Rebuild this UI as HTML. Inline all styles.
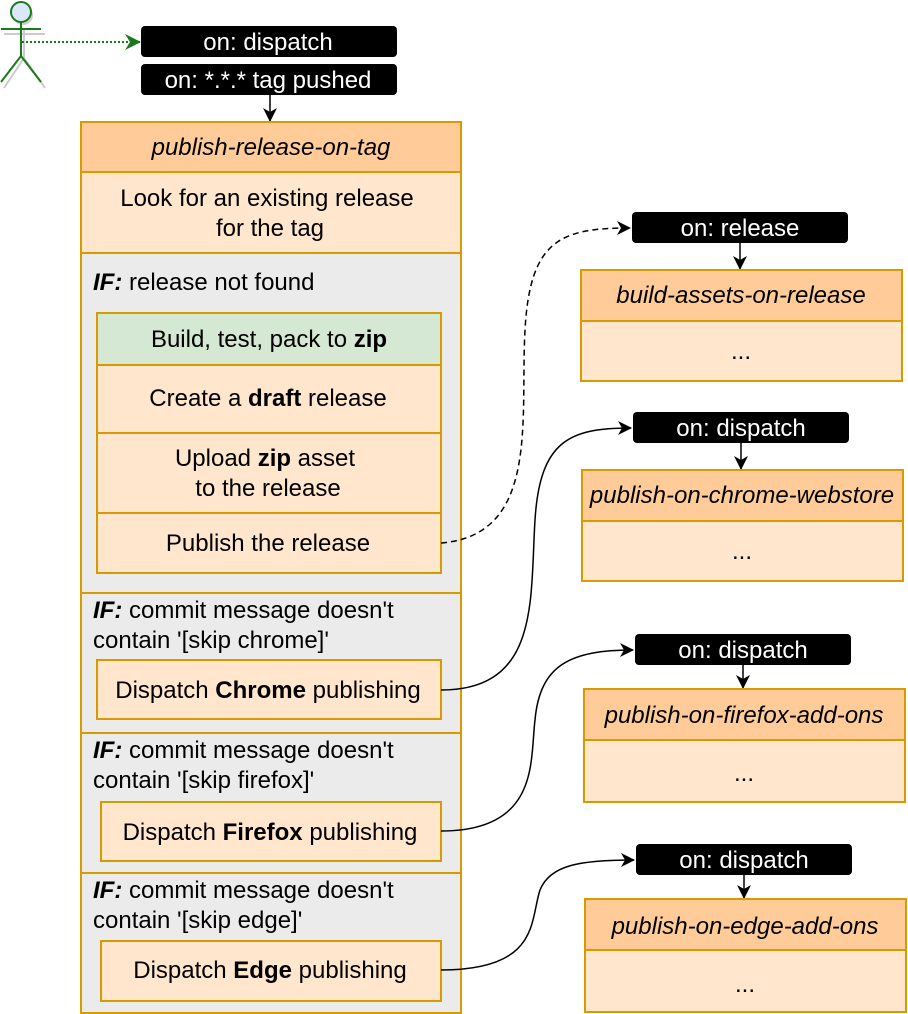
<!DOCTYPE html>
<html><head><meta charset="utf-8"><style>
html,body{margin:0;padding:0;background:#fff;}
svg{display:block;font-family:"Liberation Sans",Arial,sans-serif;}
text{font-size:24px;}
</style></head><body>
<svg width="908" height="1014" viewBox="0 0 908 1014" xmlns="http://www.w3.org/2000/svg">
<defs>
<marker id="ab" markerWidth="14" markerHeight="14" refX="13" refY="7" orient="auto" markerUnits="userSpaceOnUse"><path d="M0,0 L14,7 L0,14 L4,7 Z" fill="#000"/></marker>
<marker id="ag" markerWidth="16" markerHeight="16" refX="15" refY="8" orient="auto" markerUnits="userSpaceOnUse"><path d="M0,0 L16,8 L0,16 L5,8 Z" fill="#1a7a1a"/></marker>
</defs>
<!-- actor -->
<circle cx="23" cy="15" r="10" fill="#ccc"/>
<g stroke="#ccc" stroke-width="2" fill="none">
<line x1="24" y1="30" x2="24" y2="58"/><line x1="4" y1="34" x2="45" y2="34"/><line x1="24" y1="58" x2="4" y2="88"/><line x1="24" y1="58" x2="45" y2="88"/>
</g>
<circle cx="21" cy="12" r="10" fill="#dae8fc" stroke="#1a7a1a" stroke-width="2"/>
<g stroke="#1a7a1a" stroke-width="2" fill="none">
<line x1="21" y1="22" x2="21" y2="56"/><line x1="1" y1="29" x2="41" y2="29"/><line x1="21" y1="56" x2="1" y2="82"/><line x1="21" y1="56" x2="41" y2="82"/>
</g>
<line x1="22" y1="42" x2="140" y2="42" stroke="#1a7a1a" stroke-width="2" stroke-dasharray="2,2" marker-end="url(#ag)"/>
<!-- top pills -->
<rect x="141" y="26" width="256" height="31" rx="4" fill="#000"/>
<text x="268" y="50" fill="#fff" text-anchor="middle">on: dispatch</text>
<rect x="141" y="64" width="256" height="31" rx="4" fill="#000"/>
<text x="268" y="88" fill="#fff" text-anchor="middle">on: *.*.* tag pushed</text>
<line x1="270" y1="95" x2="270" y2="121" stroke="#000" stroke-width="1.5" marker-end="url(#ab)"/>
<!-- main column -->
<g stroke="#d79b00" stroke-width="2">
<rect x="81" y="122" width="380" height="50" fill="#ffcc99"/>
<rect x="81" y="172" width="380" height="81" fill="#ffe6cc"/>
<rect x="81" y="253" width="380" height="340" fill="#ebebeb"/>
<rect x="97" y="313" width="344" height="52" fill="#d5e8d4"/>
<rect x="97" y="365" width="344" height="68" fill="#ffe6cc"/>
<rect x="97" y="433" width="344" height="80" fill="#ffe6cc"/>
<rect x="97" y="513" width="344" height="60" fill="#ffe6cc"/>
<rect x="81" y="593" width="380" height="140" fill="#ebebeb"/>
<rect x="97" y="660" width="344" height="59" fill="#ffe6cc"/>
<rect x="81" y="733" width="380" height="140" fill="#ebebeb"/>
<rect x="101" y="802" width="340" height="59" fill="#ffe6cc"/>
<rect x="81" y="873" width="380" height="140" fill="#ebebeb"/>
<rect x="101" y="941" width="340" height="60" fill="#ffe6cc"/>
</g>
<g fill="#000">
<text x="271" y="155" text-anchor="middle" font-style="italic">publish-release-on-tag</text>
<text x="267" y="206" text-anchor="middle">Look for an existing release</text>
<text x="270" y="236" text-anchor="middle">for the tag</text>
<text x="93" y="290"><tspan font-weight="bold" font-style="italic">IF:</tspan> release not found</text>
<text x="269" y="347" text-anchor="middle">Build, test, pack to <tspan font-weight="bold">zip</tspan></text>
<text x="268" y="406" text-anchor="middle">Create a <tspan font-weight="bold">draft</tspan> release</text>
<text x="265" y="466" text-anchor="middle">Upload <tspan font-weight="bold">zip</tspan> asset</text>
<text x="268" y="496" text-anchor="middle">to the release</text>
<text x="268" y="551" text-anchor="middle">Publish the release</text>
<text x="93" y="618"><tspan font-weight="bold" font-style="italic">IF:</tspan> commit message doesn't</text>
<text x="93" y="648">contain '[skip chrome]'</text>
<text x="268" y="698" text-anchor="middle">Dispatch <tspan font-weight="bold">Chrome</tspan> publishing</text>
<text x="93" y="758"><tspan font-weight="bold" font-style="italic">IF:</tspan> commit message doesn't</text>
<text x="93" y="788">contain '[skip firefox]'</text>
<text x="270" y="840" text-anchor="middle">Dispatch <tspan font-weight="bold">Firefox</tspan> publishing</text>
<text x="93" y="898"><tspan font-weight="bold" font-style="italic">IF:</tspan> commit message doesn't</text>
<text x="93" y="928">contain '[skip edge]'</text>
<text x="270" y="978" text-anchor="middle">Dispatch <tspan font-weight="bold">Edge</tspan> publishing</text>
</g>
<!-- connectors -->
<g fill="none" stroke="#000" stroke-width="1.5">
<path d="M441,543 C540,535 520,420 525,330 C530,240 560,228 630,228" stroke-dasharray="6,4" marker-end="url(#ab)"/>
<path d="M441,690 C540,690 530,600 535,520 C540,440 570,428 631,428" marker-end="url(#ab)"/>
<path d="M441,831 C540,831 530,760 535,720 C540,665 570,650 633,650" marker-end="url(#ab)"/>
<path d="M441,970 C540,970 530,920 540,890 C550,865 580,860 634,860" marker-end="url(#ab)"/>
</g>
<!-- right blocks -->
<g>
<rect x="632" y="212" width="216" height="31" rx="4" fill="#000"/>
<text x="740" y="236" fill="#fff" text-anchor="middle">on: release</text>
<line x1="740" y1="243" x2="740" y2="269" stroke="#000" stroke-width="1.5" marker-end="url(#ab)"/>
<rect x="581" y="270" width="321" height="51" fill="#ffcc99" stroke="#d79b00" stroke-width="2"/>
<rect x="581" y="321" width="321" height="60" fill="#ffe6cc" stroke="#d79b00" stroke-width="2"/>
<text x="741" y="303" text-anchor="middle" font-style="italic">build-assets-on-release</text>
<text x="741" y="359" text-anchor="middle">...</text>

<rect x="633" y="412" width="216" height="31" rx="4" fill="#000"/>
<text x="741" y="436" fill="#fff" text-anchor="middle">on: dispatch</text>
<line x1="741" y1="443" x2="741" y2="469" stroke="#000" stroke-width="1.5" marker-end="url(#ab)"/>
<rect x="582" y="470" width="321" height="51" fill="#ffcc99" stroke="#d79b00" stroke-width="2"/>
<rect x="582" y="521" width="321" height="60" fill="#ffe6cc" stroke="#d79b00" stroke-width="2"/>
<text x="742" y="503" text-anchor="middle" font-style="italic">publish-on-chrome-webstore</text>
<text x="742" y="559" text-anchor="middle">...</text>

<rect x="635" y="634" width="216" height="31" rx="4" fill="#000"/>
<text x="743" y="658" fill="#fff" text-anchor="middle">on: dispatch</text>
<line x1="743" y1="665" x2="743" y2="688" stroke="#000" stroke-width="1.5" marker-end="url(#ab)"/>
<rect x="584" y="689" width="321" height="51" fill="#ffcc99" stroke="#d79b00" stroke-width="2"/>
<rect x="584" y="740" width="321" height="62" fill="#ffe6cc" stroke="#d79b00" stroke-width="2"/>
<text x="744" y="723" text-anchor="middle" font-style="italic">publish-on-firefox-add-ons</text>
<text x="744" y="781" text-anchor="middle">...</text>

<rect x="636" y="844" width="216" height="31" rx="4" fill="#000"/>
<text x="744" y="868" fill="#fff" text-anchor="middle">on: dispatch</text>
<line x1="744" y1="875" x2="744" y2="898" stroke="#000" stroke-width="1.5" marker-end="url(#ab)"/>
<rect x="585" y="899" width="321" height="51" fill="#ffcc99" stroke="#d79b00" stroke-width="2"/>
<rect x="585" y="950" width="321" height="62" fill="#ffe6cc" stroke="#d79b00" stroke-width="2"/>
<text x="745" y="934" text-anchor="middle" font-style="italic">publish-on-edge-add-ons</text>
<text x="745" y="992" text-anchor="middle">...</text>
</g>
</svg>
</body></html>
